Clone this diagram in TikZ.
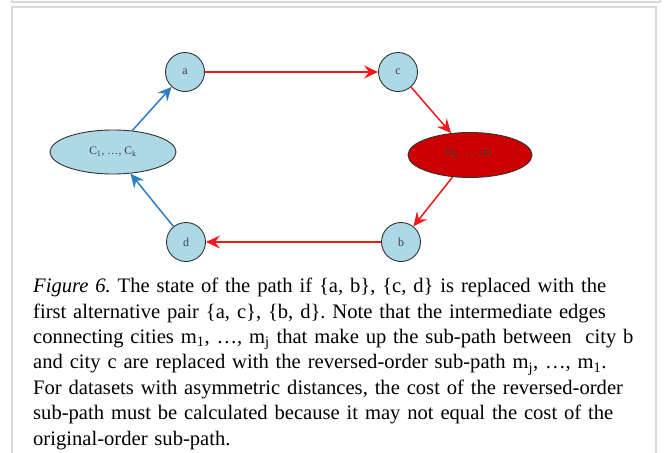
\documentclass[tikz,border=0pt]{standalone}
\usepackage{fontspec}
\setmainfont{Liberation Serif}
\usetikzlibrary{positioning,arrows.meta,shapes.geometric}
\definecolor{CityBlue}{HTML}{ADD8E6}
\definecolor{PathRed}{HTML}{F01818}
\definecolor{SubRed}{HTML}{CC0000}
\definecolor{EdgeBlue}{HTML}{2A7EC6}
\definecolor{FrameGray}{HTML}{D9D9D9}
\tikzset{
  city/.style={circle, draw=black!80, fill=CityBlue, line width=0.9pt,
    minimum size=39pt, inner sep=0pt, text=black!75,
    font=\fontsize{12}{14}\selectfont},
  group/.style={ellipse, draw=black!80, line width=0.9pt,
    minimum width=126pt, minimum height=44pt, inner sep=0pt,
    text=black!75, font=\fontsize{11.5}{14}\selectfont},
  rededge/.style={draw=PathRed, line width=1.5pt,
    -{Stealth[length=14pt,width=13pt,inset=5pt]}},
  blueedge/.style={draw=EdgeBlue, line width=1.5pt,
    -{Stealth[length=14pt,width=13pt,inset=5pt]}}
}
\begin{document}
\begin{tikzpicture}[x=1pt,y=-1pt]
  \useasboundingbox (0,0) rectangle (665,453);
  % frames
  \draw[FrameGray, line width=2pt] (12,-2) -- (12,2) -- (660,2) -- (660,-2);
  \draw[FrameGray, line width=2pt] (11.5,460) -- (11.5,6.5) -- (656,6.5) -- (656,460);
  % cities
  \node[city] (a) at (185,72) {a};
  \node[city] (c) at (398,72) {c};
  \node[city] (b) at (401,242) {b};
  \node[city] (d) at (186,242) {d};
  \node[group, fill=CityBlue] (cgroup) at (113,152) {C\textsubscript{1}, \dots, C\textsubscript{k}};
  \node[group, fill=SubRed, minimum width=124pt, minimum height=45pt] (mgroup) at (470,155) {m\textsubscript{j}, \dots, m\textsubscript{1}};
  % edges
  \draw[rededge] (a) -- (c);
  \draw[rededge] (c) -- (mgroup);
  \draw[rededge] (mgroup) -- (b);
  \draw[rededge] (b) -- (d);
  \draw[blueedge] (d) -- (cgroup);
  \draw[blueedge] (cgroup) -- (a);
  % caption
  \node[anchor=north west, inner sep=0pt, text width=640pt, align=left,
    font=\fontsize{20.6}{25.4}\selectfont\frenchspacing] (caption) at (33,278) {%
    \textit{Figure 6.} The state of the path if \{a, b\}, \{c, d\} is replaced with the\\
    first alternative pair \{a, c\}, \{b, d\}. Note that the intermediate edges\\
    connecting cities m\textsubscript{1}, \dots, m\textsubscript{j} that make up the sub-path between\ \ city b\\
    and city c are replaced with the reversed-order sub-path m\textsubscript{j}, \dots, m\textsubscript{1}.\\
    For datasets with asymmetric distances, the cost of the reversed-order\\
    sub-path must be calculated because it may not equal the cost of the\\
    original-order sub-path.};
\end{tikzpicture}
\end{document}
